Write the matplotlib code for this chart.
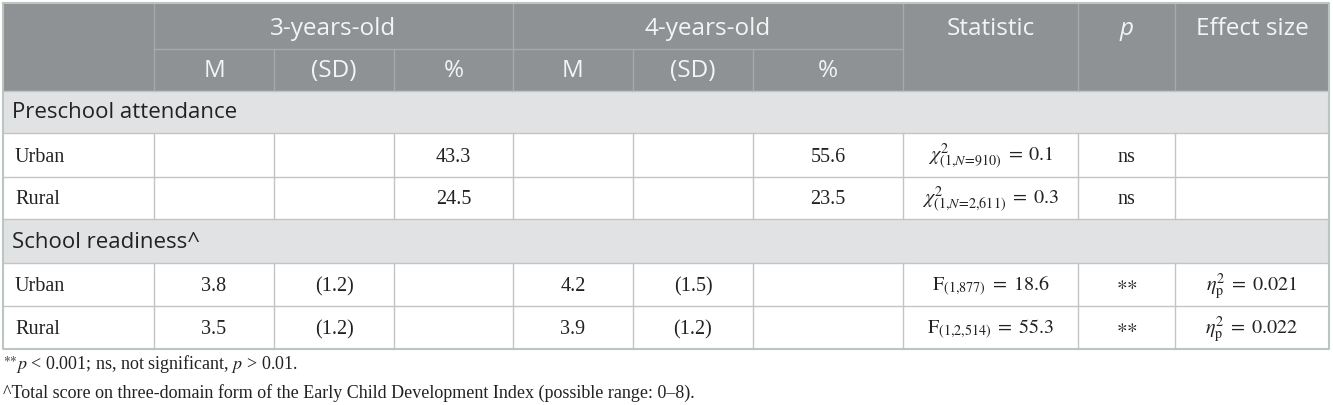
import matplotlib.pyplot as plt

plt.rcParams['mathtext.fontset'] = 'stix'

# table content
groups = ['3-years-old', '4-years-old']
sub_headers = ['M', '(SD)', '%', 'M', '(SD)', '%']
top_headers = ['Statistic', 'p', 'Effect size']
sections = ['Preschool attendance', 'School readiness^']
row_labels = ['Urban', 'Rural']

attend_pct3 = ['43.3', '24.5']
attend_pct4 = ['55.6', '23.5']
attend_stat = [r'$\chi^2_{(1{,}N\!=\!910)}\;=\;0.1$', r'$\chi^2_{(1{,}N\!=\!2{,}611)}\;=\;0.3$']
attend_p = ['ns', 'ns']

ready_m3 = ['3.8', '3.5']
ready_sd3 = ['(1.2)', '(1.2)']
ready_m4 = ['4.2', '3.9']
ready_sd4 = ['(1.5)', '(1.2)']
ready_stat = [r'$\mathrm{F}_{(1{,}877)}\;=\;18.6$', r'$\mathrm{F}_{(1{,}2{,}514)}\;=\;55.3$']
ready_p = [r'${\ast}{\ast}$', r'${\ast}{\ast}$']
ready_eff = [r'$\eta^2_{\mathrm{p}}\;=\;0.021$', r'$\eta^2_{\mathrm{p}}\;=\;0.022$']

notes = [r'$^{{\ast}{\ast}}p$ < 0.001; ns, not significant, $p$ > 0.01.',
         '^Total score on three-domain form of the Early Child Development Index (possible range: 0–8).']

# layout (pixels)
xs = [3, 154, 274, 394, 513, 633, 753, 903, 1078, 1175, 1329]
ys = [3, 49, 91, 133, 177, 219, 263, 306, 349]

hdr_bg = '#8f9294'
hdr_line = '#a7aaac'
sec_bg = '#e1e2e4'
cell_line = '#c4c4c4'
sans = 'Open Sans'
serif = 'Liberation Serif'

fig = plt.figure(figsize=(13.33, 4.05), dpi=100)
ax = fig.add_axes([0, 0, 1, 1])
ax.set_xlim(0, 1333)
ax.set_ylim(405, 0)
ax.axis('off')

def rect(x0, y0, x1, y1, color):
    ax.fill([x0, x1, x1, x0], [y0, y0, y1, y1], color=color, lw=0)

def cx(i):
    return (xs[i] + xs[i + 1]) / 2

# header
rect(xs[0], ys[0], xs[-1], ys[2], hdr_bg)
ax.plot([xs[1], xs[7]], [ys[1], ys[1]], color=hdr_line, lw=1)
for i in [1, 4, 7, 8, 9]:
    ax.plot([xs[i], xs[i]], [ys[0], ys[2]], color=hdr_line, lw=1)
for i in [2, 3, 5, 6]:
    ax.plot([xs[i], xs[i]], [ys[1], ys[2]], color=hdr_line, lw=1)

hfs = 17.5
hy1 = (ys[0] + ys[1]) / 2 + 3
hy2 = (ys[1] + ys[2]) / 2 + 1
ax.text((xs[1] + xs[4]) / 2, hy1, groups[0], color='#f4f4f4', fontsize=hfs, family=sans, ha='center', va='center')
ax.text((xs[4] + xs[7]) / 2, hy1, groups[1], color='#f4f4f4', fontsize=hfs, family=sans, ha='center', va='center')
for k, h in enumerate(sub_headers):
    ax.text(cx(k + 1), hy2, h, color='#f4f4f4', fontsize=hfs, family=sans, ha='center', va='center')
for k, h in enumerate(top_headers):
    ax.text(cx(k + 7), hy1, h, color='#f4f4f4', fontsize=hfs, family=sans, ha='center', va='center',
            style='italic' if h == 'p' else 'normal')

def section(r, label):
    rect(xs[0], ys[r], xs[-1], ys[r + 1], sec_bg)
    ax.text(xs[0] + 9, (ys[r] + ys[r + 1]) / 2 + 1, label, color='#222222', fontsize=16, family=sans,
            ha='left', va='center')

def data_row(r, cells):
    for i in range(1, 10):
        ax.plot([xs[i], xs[i]], [ys[r], ys[r + 1]], color=cell_line, lw=1)
    yc = (ys[r] + ys[r + 1]) / 2 + 2
    for i, t in enumerate(cells):
        if t:
            y = yc - 2 if '\\ast' in t else yc
            ax.text(xs[0] + 12 if i == 0 else cx(i), y, t, color='#222222', fontsize=14.5, family=serif,
                    ha='left' if i == 0 else 'center', va='center')

section(2, sections[0])
for j in range(2):
    data_row(3 + j, [row_labels[j], '', '', attend_pct3[j], '', '', attend_pct4[j],
                     attend_stat[j], attend_p[j], ''])
section(5, sections[1])
for j in range(2):
    data_row(6 + j, [row_labels[j], ready_m3[j], ready_sd3[j], '', ready_m4[j], ready_sd4[j], '',
                     ready_stat[j], ready_p[j], ready_eff[j]])

# horizontal rules
for y in ys[2:-1]:
    ax.plot([xs[0], xs[-1]], [y, y], color=cell_line, lw=1)

# outer border
ax.plot([xs[0], xs[-1], xs[-1], xs[0], xs[0]], [ys[0], ys[0], ys[-1], ys[-1], ys[0]],
        color='#bcc6c0', lw=1.5)

ax.text(xs[0], 364, notes[0], fontsize=13, family=serif, color='#222222', ha='left', va='center')
ax.text(xs[0], 393, notes[1], fontsize=13, family=serif, color='#222222', ha='left', va='center')

plt.savefig('out.png', dpi=100)
